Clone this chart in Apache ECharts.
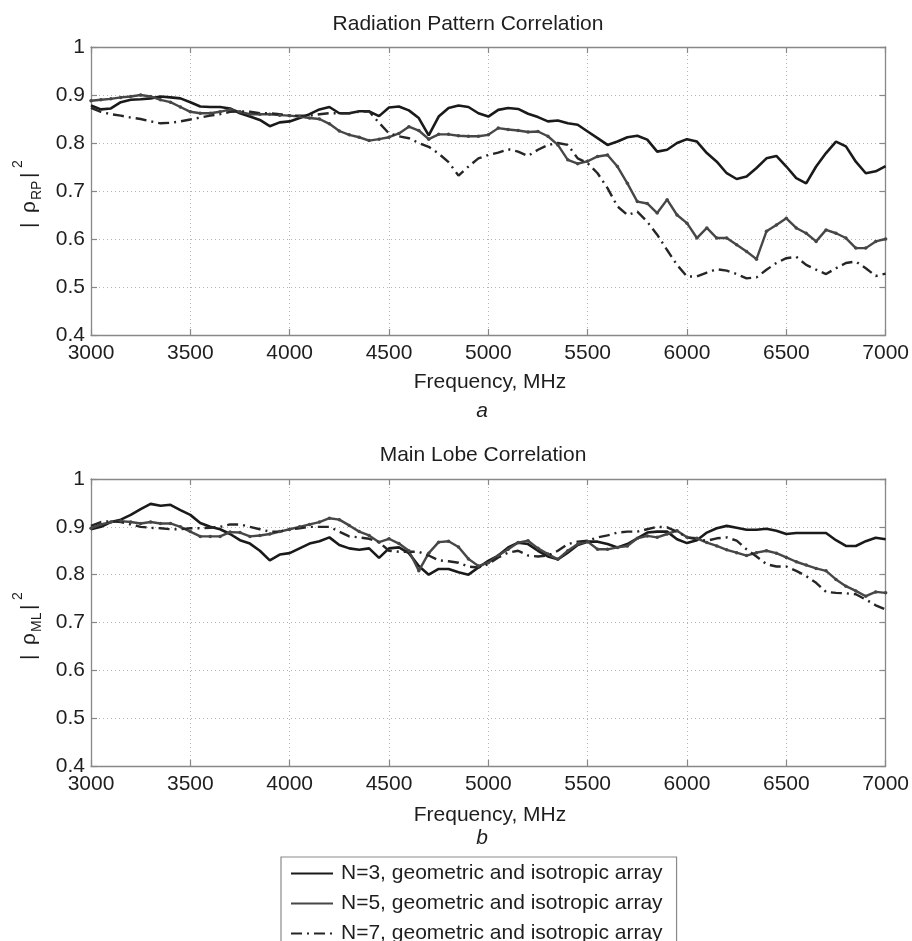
<!DOCTYPE html>
<html lang="en">
<head>
    <meta charset="UTF-8">
    <title>Radiation Pattern / Main Lobe Correlation</title>
    <script src="https://cdn.jsdelivr.net/npm/echarts@6/dist/echarts.min.js"></script>
    <style>
        html, body { margin: 0; padding: 0; background: #fff; }
        #main { width: 912px; height: 941px; }
    </style>
</head>
<body>
    <div id="main"></div>
    <script>
        // frequency grid, MHz
        var freq = [3000, 3050, 3100, 3150, 3200, 3250, 3300, 3350, 3400, 3450,
            3500, 3550, 3600, 3650, 3700, 3750, 3800, 3850, 3900, 3950,
            4000, 4050, 4100, 4150, 4200, 4250, 4300, 4350, 4400, 4450,
            4500, 4550, 4600, 4650, 4700, 4750, 4800, 4850, 4900, 4950,
            5000, 5050, 5100, 5150, 5200, 5250, 5300, 5350, 5400, 5450,
            5500, 5550, 5600, 5650, 5700, 5750, 5800, 5850, 5900, 5950,
            6000, 6050, 6100, 6150, 6200, 6250, 6300, 6350, 6400, 6450,
            6500, 6550, 6600, 6650, 6700, 6750, 6800, 6850, 6900, 6950, 7000];

        var seriesNames = ['N=3, geometric and isotropic array',
            'N=5, geometric and isotropic array',
            'N=7, geometric and isotropic array'];

        var xTicks = [3000, 3500, 4000, 4500, 5000, 5500, 6000, 6500, 7000];
        var yTicks = [0.4, 0.5, 0.6, 0.7, 0.8, 0.9, 1];

        // (a) radiation pattern correlation |rho_RP|^2
        var rpN3 = [0.878, 0.870, 0.872, 0.885, 0.890, 0.891, 0.893, 0.897, 0.895, 0.893,
            0.885, 0.876, 0.875, 0.875, 0.872, 0.862, 0.855, 0.848, 0.835, 0.843,
            0.845, 0.852, 0.860, 0.870, 0.875, 0.862, 0.862, 0.866, 0.866, 0.856,
            0.874, 0.876, 0.868, 0.852, 0.816, 0.855, 0.873, 0.878, 0.875, 0.862,
            0.855, 0.869, 0.873, 0.871, 0.861, 0.854, 0.845, 0.847, 0.841, 0.838,
            0.824, 0.810, 0.796, 0.803, 0.812, 0.815, 0.807, 0.782, 0.786, 0.800,
            0.808, 0.803, 0.779, 0.761, 0.737, 0.725, 0.730, 0.748, 0.768, 0.773,
            0.751, 0.727, 0.716, 0.751, 0.779, 0.803, 0.793, 0.761, 0.737, 0.741, 0.752];
        var rpN5 = [0.888, 0.890, 0.892, 0.895, 0.897, 0.900, 0.897, 0.890, 0.885, 0.875,
            0.865, 0.862, 0.862, 0.865, 0.870, 0.865, 0.860, 0.860, 0.860, 0.858,
            0.857, 0.855, 0.852, 0.850, 0.840, 0.825, 0.817, 0.812, 0.805, 0.808,
            0.812, 0.820, 0.834, 0.826, 0.808, 0.818, 0.818, 0.815, 0.814, 0.814,
            0.817, 0.831, 0.828, 0.826, 0.823, 0.824, 0.814, 0.796, 0.765, 0.757,
            0.762, 0.772, 0.775, 0.751, 0.716, 0.678, 0.674, 0.654, 0.682, 0.650,
            0.633, 0.602, 0.623, 0.602, 0.602, 0.588, 0.574, 0.558, 0.616, 0.629,
            0.643, 0.623, 0.612, 0.595, 0.619, 0.612, 0.602, 0.581, 0.581, 0.595, 0.600];
        var rpN7 = [0.873, 0.865, 0.860, 0.857, 0.853, 0.850, 0.845, 0.841, 0.842, 0.845,
            0.849, 0.853, 0.857, 0.860, 0.865, 0.866, 0.865, 0.862, 0.862, 0.860,
            0.857, 0.857, 0.857, 0.860, 0.862, 0.862, 0.862, 0.865, 0.866, 0.842,
            0.820, 0.814, 0.810, 0.800, 0.792, 0.778, 0.760, 0.732, 0.751, 0.768,
            0.775, 0.780, 0.787, 0.782, 0.773, 0.786, 0.796, 0.800, 0.796, 0.768,
            0.758, 0.737, 0.706, 0.668, 0.650, 0.657, 0.636, 0.609, 0.577, 0.546,
            0.522, 0.522, 0.530, 0.537, 0.534, 0.527, 0.518, 0.520, 0.536, 0.550,
            0.560, 0.563, 0.546, 0.536, 0.527, 0.539, 0.550, 0.553, 0.539, 0.523, 0.528];

        // (b) main lobe correlation |rho_ML|^2
        var mlN3 = [0.895, 0.900, 0.910, 0.915, 0.925, 0.937, 0.948, 0.944, 0.946, 0.935,
            0.925, 0.908, 0.900, 0.895, 0.885, 0.872, 0.865, 0.850, 0.830, 0.842,
            0.845, 0.855, 0.865, 0.870, 0.878, 0.862, 0.855, 0.852, 0.855, 0.835,
            0.855, 0.857, 0.845, 0.818, 0.800, 0.812, 0.812, 0.805, 0.800, 0.815,
            0.829, 0.840, 0.857, 0.867, 0.864, 0.850, 0.838, 0.832, 0.846, 0.862,
            0.869, 0.869, 0.864, 0.857, 0.864, 0.876, 0.888, 0.890, 0.890, 0.874,
            0.866, 0.872, 0.888, 0.897, 0.902, 0.898, 0.894, 0.894, 0.896, 0.892,
            0.885, 0.887, 0.887, 0.887, 0.887, 0.872, 0.860, 0.860, 0.870, 0.877, 0.874];
        var mlN5 = [0.897, 0.905, 0.910, 0.912, 0.910, 0.907, 0.910, 0.907, 0.907, 0.900,
            0.890, 0.880, 0.880, 0.880, 0.889, 0.888, 0.880, 0.882, 0.885, 0.890,
            0.895, 0.900, 0.905, 0.910, 0.918, 0.915, 0.903, 0.890, 0.882, 0.868,
            0.875, 0.865, 0.850, 0.808, 0.845, 0.868, 0.870, 0.858, 0.833, 0.818,
            0.825, 0.840, 0.853, 0.867, 0.871, 0.855, 0.843, 0.832, 0.850, 0.864,
            0.869, 0.853, 0.853, 0.857, 0.860, 0.876, 0.881, 0.878, 0.885, 0.892,
            0.878, 0.876, 0.867, 0.860, 0.852, 0.846, 0.840, 0.846, 0.850, 0.845,
            0.836, 0.827, 0.820, 0.813, 0.808, 0.790, 0.776, 0.766, 0.755, 0.764, 0.762];
        var mlN7 = [0.902, 0.910, 0.912, 0.910, 0.905, 0.900, 0.898, 0.897, 0.895, 0.895,
            0.897, 0.897, 0.898, 0.900, 0.905, 0.905, 0.900, 0.895, 0.890, 0.890,
            0.895, 0.897, 0.900, 0.900, 0.900, 0.890, 0.880, 0.878, 0.875, 0.868,
            0.850, 0.848, 0.848, 0.848, 0.840, 0.830, 0.828, 0.825, 0.817, 0.815,
            0.822, 0.836, 0.846, 0.850, 0.840, 0.838, 0.840, 0.850, 0.864, 0.869,
            0.871, 0.878, 0.882, 0.888, 0.890, 0.890, 0.895, 0.900, 0.899, 0.890,
            0.878, 0.874, 0.871, 0.876, 0.878, 0.871, 0.853, 0.838, 0.822, 0.817,
            0.817, 0.808, 0.797, 0.783, 0.764, 0.762, 0.761, 0.759, 0.748, 0.736, 0.727];

        var FONT = '"Liberation Sans", Arial, Helvetica, sans-serif';
        var TXT = '#1e1e1e';
        var FRAME = '#888';

        function pairs(ys) {
            return freq.map(function (f, i) { return [f, ys[i]]; });
        }

        function xAx(grid, pos) {
            var main = pos === 'bottom';
            return {
                type: 'value', gridIndex: grid, position: pos,
                min: xTicks[0], max: xTicks[xTicks.length - 1], interval: 500,
                axisLine: { show: true, onZero: false, lineStyle: { color: FRAME, width: 1.3 } },
                axisTick: { show: true, inside: true, length: 6, lineStyle: { color: FRAME, width: 1.2 } },
                axisLabel: {
                    show: main, margin: 8, fontSize: 21, color: TXT, fontFamily: FONT,
                    formatter: function (v) { return String(v); }
                },
                splitLine: {
                    show: main, lineStyle: { color: '#b4b4b4', width: 1, type: [1, 3] }
                }
            };
        }

        function yAx(grid, pos) {
            var main = pos === 'left';
            return {
                type: 'value', gridIndex: grid, position: pos,
                min: yTicks[0], max: yTicks[yTicks.length - 1], interval: 0.1,
                axisLine: { show: true, onZero: false, lineStyle: { color: FRAME, width: 1.3 } },
                axisTick: { show: true, inside: true, length: 6, lineStyle: { color: FRAME, width: 1.2 } },
                axisLabel: {
                    show: main, margin: 6, fontSize: 21, color: TXT, fontFamily: FONT,
                    formatter: function (v) {
                        return Math.abs(v - 1) < 1e-6 ? '1' : v.toFixed(1);
                    }
                },
                splitLine: {
                    show: main, lineStyle: { color: '#b4b4b4', width: 1, type: [1, 3] }
                }
            };
        }

        function lines(grid, d3, d5, d7) {
            var ax = grid * 2;
            return [{
                name: seriesNames[0], type: 'line', xAxisIndex: ax, yAxisIndex: ax,
                data: pairs(d3), symbol: 'none', animation: false,
                lineStyle: { color: '#1a1a1a', width: 2.6 }, itemStyle: { color: '#1a1a1a' }
            }, {
                name: seriesNames[1], type: 'line', xAxisIndex: ax, yAxisIndex: ax,
                data: pairs(d5), symbol: 'circle', symbolSize: 3.5,
                showSymbol: true, showAllSymbol: true, animation: false,
                lineStyle: { color: '#474747', width: 2.4 }, itemStyle: { color: '#474747' }
            }, {
                name: seriesNames[2], type: 'line', xAxisIndex: ax, yAxisIndex: ax,
                data: pairs(d7), symbol: 'none', animation: false,
                lineStyle: { color: '#262626', width: 2.4, type: [11, 5, 2, 5] },
                itemStyle: { color: '#262626' }
            }];
        }

        // rotated y-axis name with sub/superscript, built from text pieces
        function yName(cyOffset, sub) {
            return {
                type: 'group', x: 29, y: 230 + cyOffset, rotation: Math.PI / 2,
                children: [
                    { type: 'text', x: 2, y: 0, style: { text: '|', fontSize: 21, fontFamily: FONT, fill: TXT, verticalAlign: 'middle' } },
                    { type: 'text', x: 17, y: 0, style: { text: 'ρ', fontSize: 21, fontFamily: FONT, fill: TXT, verticalAlign: 'middle' } },
                    { type: 'text', x: 30, y: 8, style: { text: sub, fontSize: 14, fontFamily: FONT, fill: TXT, verticalAlign: 'middle' } },
                    { type: 'text', x: 52, y: 0, style: { text: '|', fontSize: 21, fontFamily: FONT, fill: TXT, verticalAlign: 'middle' } },
                    { type: 'text', x: 62, y: -11, style: { text: '2', fontSize: 14, fontFamily: FONT, fill: TXT, verticalAlign: 'middle' } }
                ]
            };
        }

        function label(x, y, text, italic) {
            return {
                type: 'text', x: x, y: y,
                style: {
                    text: text, fontSize: 21, fontFamily: FONT, fill: TXT,
                    fontStyle: italic ? 'italic' : 'normal',
                    align: 'center', verticalAlign: 'middle'
                }
            };
        }

        var myChart = echarts.init(document.getElementById('main'), null, { renderer: 'canvas' });

        var option = {
            backgroundColor: '#fff',
            animation: false,
            grid: [
                { left: 91, right: 25, top: 47, height: 288 },
                { left: 91, right: 25, top: 479, height: 287 }
            ],
            xAxis: [xAx(0, 'bottom'), xAx(0, 'top'), xAx(1, 'bottom'), xAx(1, 'top')],
            yAxis: [yAx(0, 'left'), yAx(0, 'right'), yAx(1, 'left'), yAx(1, 'right')],
            legend: {
                data: [
                    { name: seriesNames[0], itemStyle: { opacity: 0 } },
                    { name: seriesNames[1], itemStyle: { opacity: 0 } },
                    { name: seriesNames[2], itemStyle: { opacity: 0 } }
                ],
                orient: 'vertical',
                left: 281, top: 857, width: 400, height: 95,
                padding: [6, 14, 6, 9],
                itemWidth: 42, itemHeight: 14, itemGap: 9,
                borderColor: '#8a8a8a', borderWidth: 1.2,
                selectedMode: false,
                textStyle: { fontSize: 21, lineHeight: 21, color: TXT, fontFamily: FONT, padding: [0, 0, 0, 3] }
            },
            graphic: [
                label(468, 24, 'Radiation Pattern Correlation'),
                label(490, 382, 'Frequency, MHz'),
                label(482, 411, 'a', true),
                label(483, 455, 'Main Lobe Correlation'),
                label(490, 815, 'Frequency, MHz'),
                label(482, 838, 'b', true),
                yName(0, 'RP'),
                yName(432, 'ML')
            ],
            series: lines(0, rpN3, rpN5, rpN7).concat(lines(1, mlN3, mlN5, mlN7))
        };

        myChart.setOption(option);
    </script>
</body>
</html>
